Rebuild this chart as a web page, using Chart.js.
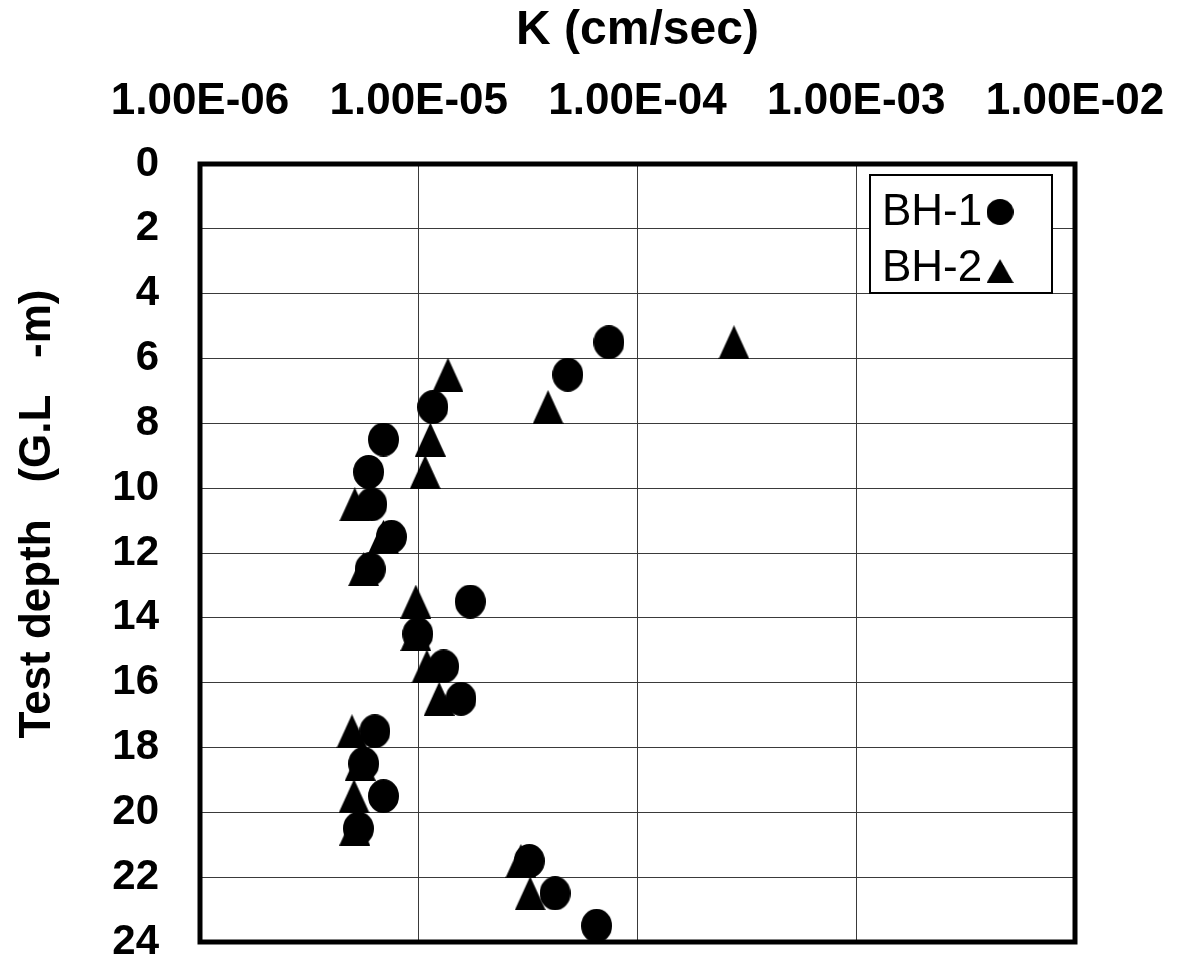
<!DOCTYPE html>
<html>
<head>
<meta charset="utf-8">
<script src="https://cdn.jsdelivr.net/npm/chart.js@4/dist/chart.umd.min.js"></script>
<style>
  html, body { margin: 0; padding: 0; background: #fff; }
  #grafico { display: block; }
</style>
</head>
<body>
<canvas id="grafico" width="1180" height="965"></canvas>
<script>
// Datos
const tituloX = 'K (cm/sec)';
const tituloY = 'Test depth   (G.L   -m)';
const ticksK = [1e-6, 1e-5, 1e-4, 1e-3, 1e-2];
const ticksProf = [0, 2, 4, 6, 8, 10, 12, 14, 16, 18, 20, 22, 24];

const etiquetasSeries = ['BH-1', 'BH-2'];

const profBH1 = [5.5, 6.5, 7.5, 8.5, 9.5, 10.5, 11.5, 12.5, 13.5, 14.5, 15.5, 16.5, 17.5, 18.5, 19.5, 20.5, 21.5, 22.5, 23.5];
const kBH1 = [7.4e-5, 4.8e-5, 1.16e-5, 6.9e-6, 5.9e-6, 6.1e-6, 7.5e-6, 6.0e-6, 1.72e-5, 9.9e-6, 1.30e-5, 1.56e-5, 6.3e-6, 5.6e-6, 6.9e-6, 5.3e-6, 3.2e-5, 4.2e-5, 6.5e-5];

const profBH2 = [5.5, 6.5, 7.5, 8.5, 9.5, 10.5, 11.5, 12.5, 13.5, 14.5, 15.5, 16.5, 17.5, 18.5, 19.5, 20.5, 21.5, 22.5];
const kBH2 = [2.76e-4, 1.36e-5, 3.9e-5, 1.13e-5, 1.07e-5, 5.1e-6, 6.9e-6, 5.6e-6, 9.7e-6, 9.7e-6, 1.09e-5, 1.24e-5, 4.95e-6, 5.4e-6, 5.06e-6, 5.1e-6, 2.93e-5, 3.23e-5];

const fuente = '"Liberation Sans", Arial, sans-serif';

// Marcadores rellenos (elipse y triángulo) dibujados en un canvas aparte
function crearMarcador(tipo, w, h) {
  const c = document.createElement('canvas');
  c.width = w;
  c.height = h;
  const ctx = c.getContext('2d');
  ctx.fillStyle = '#000';
  ctx.beginPath();
  if (tipo === 'circulo') {
    ctx.ellipse(w / 2, h / 2, w / 2, h / 2, 0, 0, Math.PI * 2);
  } else {
    ctx.moveTo(w / 2, 0);
    ctx.lineTo(w, h);
    ctx.lineTo(0, h);
    ctx.closePath();
  }
  ctx.fill();
  return c;
}

const marcadores = [crearMarcador('circulo', 31, 34), crearMarcador('triangulo', 31, 34)];

// 1.00E-06
function formatoCientifico(v) {
  const exp = Math.round(Math.log10(v));
  const man = v / Math.pow(10, exp);
  const signo = exp < 0 ? '-' : '+';
  return man.toFixed(2) + 'E' + signo + String(Math.abs(exp)).padStart(2, '0');
}

// Marco grueso, leyenda y título vertical
const marcoYLeyenda = {
  id: 'marcoYLeyenda',
  afterDatasetsDraw(chart) {
    const { ctx, chartArea: a } = chart;
    ctx.save();
    ctx.strokeStyle = '#000';
    ctx.lineWidth = 5;
    ctx.strokeRect(a.left, a.top, a.right - a.left, a.bottom - a.top);

    // leyenda con texto a la izquierda y marcador a la derecha
    const lx = a.right - 205, ly = a.top + 11, lw = 182, lh = 118;
    ctx.fillStyle = '#fff';
    ctx.fillRect(lx, ly, lw, lh);
    ctx.lineWidth = 2;
    ctx.strokeRect(lx, ly, lw, lh);
    ctx.fillStyle = '#000';
    ctx.font = '44px ' + fuente;
    ctx.textAlign = 'left';
    ctx.textBaseline = 'alphabetic';
    const tamanyos = [[27, 26], [27, 24]];
    chart.data.datasets.forEach((ds, i) => {
      const base = ly + 50 + i * 56;
      ctx.fillText(ds.label, lx + 12, base);
      const [w, h] = tamanyos[i];
      ctx.drawImage(ds.pointStyle, lx + 130 - w / 2, base - 13 - h / 2 + (i ? 3 : 0), w, h);
    });

    // título del eje Y
    ctx.translate(38, (a.top + a.bottom) / 2 - 39);
    ctx.rotate(-Math.PI / 2);
    ctx.textAlign = 'center';
    ctx.textBaseline = 'middle';
    ctx.font = 'bold 44px ' + fuente;
    ctx.fillText(tituloY, 0, 0);
    ctx.restore();
  }
};

new Chart(document.getElementById('grafico'), {
  type: 'scatter',
  data: {
    datasets: [
      {
        label: etiquetasSeries[0],
        data: kBH1.map((k, i) => ({ x: k, y: profBH1[i] })),
        pointStyle: marcadores[0],
        pointRadius: 16,
        backgroundColor: '#000',
        borderColor: '#000'
      },
      {
        label: etiquetasSeries[1],
        data: kBH2.map((k, i) => ({ x: k, y: profBH2[i] })),
        pointStyle: marcadores[1],
        pointRadius: 16,
        backgroundColor: '#000',
        borderColor: '#000'
      }
    ]
  },
  options: {
    responsive: false,
    animation: false,
    layout: { padding: { left: 0, top: 0, right: 105, bottom: 23 } },
    scales: {
      x: {
        type: 'logarithmic',
        position: 'top',
        min: ticksK[0],
        max: ticksK[ticksK.length - 1],
        afterBuildTicks: s => { s.ticks = ticksK.map(v => ({ value: v })); },
        afterFit: s => { s.height = 164; s.paddingLeft = 0; s.paddingRight = 0; },
        ticks: {
          callback: v => formatoCientifico(v),
          font: { family: fuente, size: 44, weight: 'bold' },
          color: '#000',
          padding: 36,
          maxRotation: 0,
          autoSkip: false
        },
        grid: { color: '#3a3a3a', lineWidth: 1, drawTicks: false },
        border: { display: false },
        title: {
          display: true,
          text: tituloX,
          color: '#000',
          font: { family: fuente, size: 48, weight: 'bold' },
          padding: { top: 2, bottom: 0 }
        }
      },
      y: {
        type: 'linear',
        reverse: true,
        min: ticksProf[0],
        max: ticksProf[ticksProf.length - 1],
        afterBuildTicks: s => { s.ticks = ticksProf.map(v => ({ value: v })); },
        afterFit: s => { s.width = 200; s.paddingTop = 0; s.paddingBottom = 0; },
        ticks: {
          font: { family: fuente, size: 42, weight: 'bold' },
          color: '#000',
          padding: 41,
          autoSkip: false
        },
        grid: { color: '#3a3a3a', lineWidth: 1, drawTicks: false },
        border: { display: false }
      }
    },
    plugins: {
      legend: { display: false },
      tooltip: { enabled: false }
    }
  },
  plugins: [marcoYLeyenda]
});
</script>
</body>
</html>
